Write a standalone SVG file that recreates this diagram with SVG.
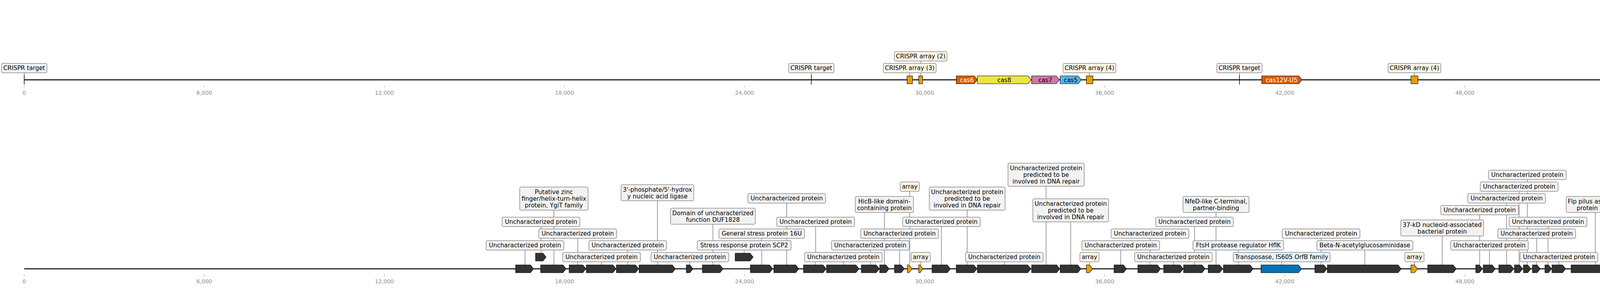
<svg xmlns="http://www.w3.org/2000/svg" width="4528" height="736" viewBox="0 0 4528 736">
<style>
.t{font-family:"DejaVu Sans","Noto Sans",sans-serif;font-size:15.3px;text-anchor:middle;fill:#000}
.tw{fill:#fff}
.ax{font-family:"DejaVu Sans","Noto Sans",sans-serif;font-size:13.9px;text-anchor:middle;fill:#8c8c8c}
.tk{stroke:#a0a0a0;stroke-width:1}
.bx{fill:#f2f2f2;stroke:#8a8a8a;stroke-width:1.5}
.cr{fill:#fef6e5;stroke:#8a8a8a;stroke-width:1.5}
.tb{fill:#e6f4fc;stroke:#8a8a8a;stroke-width:1.5}
.c{stroke:#444;stroke-width:1;fill:none}
.trk{stroke:#000;stroke-width:2.6}
.g{fill:#333;stroke:#000;stroke-width:1.1}
.o{fill:#e69f00;stroke:#000;stroke-width:1.1}
.tg{stroke:#000;stroke-width:1.5}
</style>
<rect x="0" y="0" width="4528" height="736" fill="#fff"/>
<g id="axes">
<g class="tk">
<line x1="62" y1="218" x2="62" y2="224"/><line x1="523" y1="218" x2="523" y2="224"/><line x1="984" y1="218" x2="984" y2="224"/><line x1="1445" y1="218" x2="1445" y2="224"/><line x1="1906" y1="218" x2="1906" y2="224"/><line x1="2367" y1="218" x2="2367" y2="224"/><line x1="2828" y1="218" x2="2828" y2="224"/><line x1="3289" y1="218" x2="3289" y2="224"/><line x1="3750" y1="218" x2="3750" y2="224"/><line x1="4211" y1="218" x2="4211" y2="224"/>
<line x1="62" y1="701" x2="62" y2="707"/><line x1="523" y1="701" x2="523" y2="707"/><line x1="984" y1="701" x2="984" y2="707"/><line x1="1445" y1="701" x2="1445" y2="707"/><line x1="1906" y1="701" x2="1906" y2="707"/><line x1="2367" y1="701" x2="2367" y2="707"/><line x1="2828" y1="701" x2="2828" y2="707"/><line x1="3289" y1="701" x2="3289" y2="707"/><line x1="3750" y1="701" x2="3750" y2="707"/><line x1="4211" y1="701" x2="4211" y2="707"/>
</g>
<g class="ax">
<text x="62" y="242">0</text><text x="523" y="242">6,000</text><text x="984" y="242">12,000</text><text x="1445" y="242">18,000</text><text x="1906" y="242">24,000</text><text x="2367" y="242">30,000</text><text x="2828" y="242">36,000</text><text x="3289" y="242">42,000</text><text x="3750" y="242">48,000</text><text x="4211" y="242">54,000</text>
<text x="62" y="724">0</text><text x="523" y="724">6,000</text><text x="984" y="724">12,000</text><text x="1445" y="724">18,000</text><text x="1906" y="724">24,000</text><text x="2367" y="724">30,000</text><text x="2828" y="724">36,000</text><text x="3289" y="724">42,000</text><text x="3750" y="724">48,000</text><text x="4211" y="724">54,000</text>
</g>
</g>
<g id="tracks">
<line class="trk" x1="62" y1="204" x2="4480" y2="204"/>
<line class="trk" x1="62" y1="687" x2="4480" y2="687"/>
</g>
<g id="connectors" class="c">
<line x1="62" y1="186" x2="62" y2="192"/><line x1="2077" y1="186" x2="2077" y2="192"/><line x1="3173" y1="186" x2="3173" y2="192"/>
<line x1="2329" y1="186" x2="2329" y2="194"/><line x1="2357" y1="156" x2="2357" y2="194"/><line x1="2789" y1="186" x2="2789" y2="194"/><line x1="3621" y1="186" x2="3621" y2="194"/>
<line x1="1344" y1="677" x2="1344" y2="639"/>
<line x1="1385" y1="647" x2="1385" y2="579"/>
<line x1="1418" y1="677" x2="1418" y2="537"/>
<line x1="1479" y1="677" x2="1479" y2="609"/>
<line x1="1540" y1="677" x2="1540" y2="669"/>
<line x1="1607" y1="677" x2="1607" y2="639"/>
<line x1="1683" y1="677" x2="1683" y2="513"/>
<line x1="1766" y1="677" x2="1766" y2="669"/>
<line x1="1825" y1="677" x2="1825" y2="573"/>
<line x1="1905" y1="647" x2="1905" y2="639"/>
<line x1="1950" y1="677" x2="1950" y2="609"/>
<line x1="2014" y1="677" x2="2014" y2="519"/>
<line x1="2088" y1="677" x2="2088" y2="579"/>
<line x1="2159" y1="677" x2="2159" y2="669"/>
<line x1="2228" y1="677" x2="2228" y2="639"/>
<line x1="2264" y1="677" x2="2264" y2="543"/>
<line x1="2303" y1="677" x2="2303" y2="609"/>
<line x1="2329" y1="677" x2="2329" y2="489"/>
<line x1="2357" y1="677" x2="2357" y2="669"/>
<line x1="2410" y1="677" x2="2410" y2="579"/>
<line x1="2476" y1="677" x2="2476" y2="537"/>
<line x1="2571" y1="677" x2="2571" y2="669"/>
<line x1="2678" y1="677" x2="2678" y2="476"/>
<line x1="2741" y1="677" x2="2741" y2="567"/>
<line x1="2789" y1="677" x2="2789" y2="669"/>
<line x1="2869" y1="677" x2="2869" y2="639"/>
<line x1="2944" y1="677" x2="2944" y2="609"/>
<line x1="3004" y1="677" x2="3004" y2="669"/>
<line x1="3058" y1="677" x2="3058" y2="579"/>
<line x1="3113" y1="677" x2="3113" y2="543"/>
<line x1="3170" y1="677" x2="3170" y2="639"/>
<line x1="3281" y1="677" x2="3281" y2="669"/>
<line x1="3382" y1="677" x2="3382" y2="609"/>
<line x1="3494" y1="677" x2="3494" y2="639"/>
<line x1="3621" y1="677" x2="3621" y2="669"/>
<line x1="3692" y1="677" x2="3692" y2="603"/>
<line x1="3788" y1="677" x2="3788" y2="549"/>
<line x1="3813" y1="677" x2="3813" y2="639"/>
<line x1="3857" y1="677" x2="3857" y2="519"/>
<line x1="3889" y1="677" x2="3889" y2="489"/>
<line x1="3910" y1="677" x2="3910" y2="459"/>
<line x1="3934" y1="677" x2="3934" y2="609"/>
<line x1="3963" y1="677" x2="3963" y2="579"/>
<line x1="3991" y1="677" x2="3991" y2="669"/>
<line x1="4084" y1="677" x2="4084" y2="543"/>
<line x1="4233" y1="677" x2="4233" y2="579"/>
<line x1="4276" y1="677" x2="4276" y2="543"/>
<line x1="4314" y1="677" x2="4314" y2="609"/>
<line x1="4340" y1="677" x2="4340" y2="639"/>
<line x1="4423" y1="677" x2="4423" y2="669"/>
</g>
<!-- top track nodes -->
<g id="top-crispr-target-1"><line class="tg" x1="62" y1="192" x2="62" y2="216"/><rect class="bx" x="4" y="162" width="116" height="24" rx="3.5"/><text class="t" x="62" y="179.3">CRISPR target</text></g>
<g id="top-crispr-target-2"><line class="tg" x1="2077" y1="192" x2="2077" y2="216"/><rect class="bx" x="2019" y="162" width="116" height="24" rx="3.5"/><text class="t" x="2077" y="179.3">CRISPR target</text></g>
<g id="top-crispr-target-3"><line class="tg" x1="3173" y1="192" x2="3173" y2="216"/><rect class="bx" x="3115" y="162" width="116" height="24" rx="3.5"/><text class="t" x="3173" y="179.3">CRISPR target</text></g>
<g id="top-crispr-array-3"><rect class="o" x="2322" y="194" width="14" height="20"/><rect class="cr" x="2261.5" y="162" width="135" height="24" rx="3.5"/><text class="t" x="2329" y="179.3">CRISPR array (3)</text></g>
<g id="top-crispr-array-2"><rect class="o" x="2352" y="194" width="10" height="20"/><rect class="cr" x="2289.5" y="132" width="135" height="24" rx="3.5"/><text class="t" x="2357" y="149.3">CRISPR array (2)</text></g>
<g id="top-cas6"><path class="g" style="fill:#d55e00" d="M2448 194H2494L2502 204L2494 214H2448Z"/><text class="t tw" x="2475" y="209.5">cas6</text></g>
<g id="top-cas8"><path class="g" style="fill:#f0e442" d="M2502 194H2632L2640 204L2632 214H2502Z"/><text class="t" x="2571" y="209.5">cas8</text></g>
<g id="top-cas7"><path class="g" style="fill:#cc79a7" d="M2641 194H2704L2712 204L2704 214H2641Z"/><text class="t" x="2676" y="209.5">cas7</text></g>
<g id="top-cas5"><path class="g" style="fill:#56b4e9" d="M2714 194H2760L2768 204L2760 214H2714Z"/><text class="t" x="2741" y="209.5">cas5</text></g>
<g id="top-crispr-array-4a"><rect class="o" x="2781" y="194" width="17" height="20"/><rect class="cr" x="2721.5" y="162" width="135" height="24" rx="3.5"/><text class="t" x="2789" y="179.3">CRISPR array (4)</text></g>
<g id="top-cas12V-U5"><path class="g" style="fill:#d55e00" d="M3230 194H3325L3333 204L3325 214H3230Z"/><text class="t tw" x="3281" y="209.5">cas12V-U5</text></g>
<g id="top-crispr-array-4b"><rect class="o" x="3612" y="194" width="18" height="20"/><rect class="cr" x="3553.5" y="162" width="135" height="24" rx="3.5"/><text class="t" x="3621" y="179.3">CRISPR array (4)</text></g>
<g id="top-transposase"><path class="g" style="fill:#0072b2" d="M4366 194H4472L4480 204L4472 214H4366Z"/><text class="t tw" x="4423" y="209.5">transposase</text></g>
<!-- bottom track nodes -->
<g id="g1"><path class="g" d="M1320 677H1358L1366 687L1358 697H1320Z"/><rect class="bx" x="1244.5" y="615" width="199" height="24" rx="3.5"/><text class="t" x="1344" y="632.3">Uncharacterized protein</text></g>
<g id="g2"><path class="g" d="M1371 647H1390L1398 657L1390 667H1371Z"/><rect class="bx" x="1285.5" y="555" width="199" height="24" rx="3.5"/><text class="t" x="1385" y="572.3">Uncharacterized protein</text></g>
<g id="g3"><path class="g" d="M1384 677H1441L1449 687L1441 697H1384Z"/><rect class="bx" x="1330.5" y="478" width="175" height="59" rx="3.5"/><text class="t" x="1418" y="495.5">Putative zinc</text><text class="t" x="1418" y="512.9">finger/helix-turn-helix</text><text class="t" x="1418" y="530.3">protein, YgiT family</text></g>
<g id="g4"><path class="g" d="M1457 677H1492L1500 687L1492 697H1457Z"/><rect class="bx" x="1379.5" y="585" width="199" height="24" rx="3.5"/><text class="t" x="1479" y="602.3">Uncharacterized protein</text></g>
<g id="g5"><path class="g" d="M1501 677H1569L1577 687L1569 697H1501Z"/><rect class="bx" x="1440.5" y="645" width="199" height="24" rx="3.5"/><text class="t" x="1540" y="662.3">Uncharacterized protein</text></g>
<g id="g6"><path class="g" d="M1578 677H1627L1635 687L1627 697H1578Z"/><rect class="bx" x="1507.5" y="615" width="199" height="24" rx="3.5"/><text class="t" x="1607" y="632.3">Uncharacterized protein</text></g>
<g id="g7"><path class="g" d="M1636 677H1721L1729 687L1721 697H1636Z"/><rect class="bx" x="1590" y="472" width="186" height="41" rx="3.5"/><text class="t" x="1683" y="489.5">3'-phosphate/5'-hydrox</text><text class="t" x="1683" y="506.9">y nucleic acid ligase</text></g>
<g id="g8"><path class="g" d="M1757 677H1766L1774 687L1766 697H1757Z"/><rect class="bx" x="1666.5" y="645" width="199" height="24" rx="3.5"/><text class="t" x="1766" y="662.3">Uncharacterized protein</text></g>
<g id="g9"><path class="g" d="M1798 677H1843L1851 687L1843 697H1798Z"/><rect class="bx" x="1716.5" y="532" width="217" height="41" rx="3.5"/><text class="t" x="1825" y="549.5">Domain of uncharacterized</text><text class="t" x="1825" y="566.9">function DUF1828</text></g>
<g id="g10"><path class="g" d="M1882 647H1920L1928 657L1920 667H1882Z"/><rect class="bx" x="1785" y="615" width="240" height="24" rx="3.5"/><text class="t" x="1905" y="632.3">Stress response protein SCP2</text></g>
<g id="g11"><path class="g" d="M1921 677H1970L1978 687L1970 697H1921Z"/><rect class="bx" x="1840.5" y="585" width="219" height="24" rx="3.5"/><text class="t" x="1950" y="602.3">General stress protein 16U</text></g>
<g id="g12"><path class="g" d="M1981 677H2037L2045 687L2037 697H1981Z"/><rect class="bx" x="1914.5" y="495" width="199" height="24" rx="3.5"/><text class="t" x="2014" y="512.3">Uncharacterized protein</text></g>
<g id="g13"><path class="g" d="M2057 677H2107L2115 687L2107 697H2057Z"/><rect class="bx" x="1988.5" y="555" width="199" height="24" rx="3.5"/><text class="t" x="2088" y="572.3">Uncharacterized protein</text></g>
<g id="g14"><path class="g" d="M2116 677H2191L2199 687L2191 697H2116Z"/><rect class="bx" x="2059.5" y="645" width="199" height="24" rx="3.5"/><text class="t" x="2159" y="662.3">Uncharacterized protein</text></g>
<g id="g15"><path class="g" d="M2205 677H2243L2251 687L2243 697H2205Z"/><rect class="bx" x="2128.5" y="615" width="199" height="24" rx="3.5"/><text class="t" x="2228" y="632.3">Uncharacterized protein</text></g>
<g id="g16"><path class="g" d="M2252 677H2268L2276 687L2268 697H2252Z"/><rect class="bx" x="2189.5" y="502" width="149" height="41" rx="3.5"/><text class="t" x="2264" y="519.5">HicB-like domain-</text><text class="t" x="2264" y="536.9">containing protein</text></g>
<g id="g17"><path class="g" d="M2290 677H2307L2315 687L2307 697H2290Z"/><rect class="bx" x="2203.5" y="585" width="199" height="24" rx="3.5"/><text class="t" x="2303" y="602.3">Uncharacterized protein</text></g>
<g id="a1"><path class="o" d="M2323 677H2327L2335 687L2327 697H2323Z"/><rect class="cr" x="2304.5" y="465" width="49" height="24" rx="3.5"/><text class="t" x="2329" y="482.3">array</text></g>
<g id="a2"><path class="o" d="M2352 677H2355.7L2362 687L2355.7 697H2352Z"/><rect class="cr" x="2332.5" y="645" width="49" height="24" rx="3.5"/><text class="t" x="2357" y="662.3">array</text></g>
<g id="g18"><path class="g" d="M2386 677H2425L2433 687L2425 697H2386Z"/><rect class="bx" x="2310.5" y="555" width="199" height="24" rx="3.5"/><text class="t" x="2410" y="572.3">Uncharacterized protein</text></g>
<g id="g19"><path class="g" d="M2448 677H2493L2501 687L2493 697H2448Z"/><rect class="bx" x="2379" y="478" width="194" height="59" rx="3.5"/><text class="t" x="2476" y="495.5">Uncharacterized protein</text><text class="t" x="2476" y="512.9">predicted to be</text><text class="t" x="2476" y="530.3">involved in DNA repair</text></g>
<g id="g20"><path class="g" d="M2502 677H2631L2639 687L2631 697H2502Z"/><rect class="bx" x="2471.5" y="645" width="199" height="24" rx="3.5"/><text class="t" x="2571" y="662.3">Uncharacterized protein</text></g>
<g id="g21"><path class="g" d="M2641 677H2705L2713 687L2705 697H2641Z"/><rect class="bx" x="2580.5" y="417" width="195" height="59" rx="3.5"/><text class="t" x="2678" y="434.5">Uncharacterized protein</text><text class="t" x="2678" y="451.9">predicted to be</text><text class="t" x="2678" y="469.3">involved in DNA repair</text></g>
<g id="g22"><path class="g" d="M2714 677H2759L2767 687L2759 697H2714Z"/><rect class="bx" x="2644" y="508" width="194" height="59" rx="3.5"/><text class="t" x="2741" y="525.5">Uncharacterized protein</text><text class="t" x="2741" y="542.9">predicted to be</text><text class="t" x="2741" y="560.3">involved in DNA repair</text></g>
<g id="a3"><path class="o" d="M2781 677H2789L2797 687L2789 697H2781Z"/><rect class="cr" x="2764.5" y="645" width="49" height="24" rx="3.5"/><text class="t" x="2789" y="662.3">array</text></g>
<g id="g23"><path class="g" d="M2852 677H2876L2884 687L2876 697H2852Z"/><rect class="bx" x="2769.5" y="615" width="199" height="24" rx="3.5"/><text class="t" x="2869" y="632.3">Uncharacterized protein</text></g>
<g id="g24"><path class="g" d="M2913 677H2963L2971 687L2963 697H2913Z"/><rect class="bx" x="2844.5" y="585" width="199" height="24" rx="3.5"/><text class="t" x="2944" y="602.3">Uncharacterized protein</text></g>
<g id="g25"><path class="g" d="M2979 677H3021L3029 687L3021 697H2979Z"/><rect class="bx" x="2904.5" y="645" width="199" height="24" rx="3.5"/><text class="t" x="3004" y="662.3">Uncharacterized protein</text></g>
<g id="g26"><path class="g" d="M3030 677H3077L3085 687L3077 697H3030Z"/><rect class="bx" x="2958.5" y="555" width="199" height="24" rx="3.5"/><text class="t" x="3058" y="572.3">Uncharacterized protein</text></g>
<g id="g27"><path class="g" d="M3093 677H3122L3130 687L3122 697H3093Z"/><rect class="bx" x="3028.5" y="502" width="169" height="41" rx="3.5"/><text class="t" x="3113" y="519.5">NfeD-like C-terminal,</text><text class="t" x="3113" y="536.9">partner-binding</text></g>
<g id="g28"><path class="g" d="M3132 677H3200L3208 687L3200 697H3132Z"/><rect class="bx" x="3054" y="615" width="232" height="24" rx="3.5"/><text class="t" x="3170" y="632.3">FtsH protease regulator HflK</text></g>
<g id="g29"><path class="g" style="fill:#0072b2" d="M3228 677H3324L3332 687L3324 697H3228Z"/><rect class="tb" x="3157" y="645" width="248" height="24" rx="3.5"/><text class="t" x="3281" y="662.3">Transposase, IS605 OrfB family</text></g>
<g id="g30"><path class="g" d="M3366 677H3389L3397 687L3389 697H3366Z"/><rect class="bx" x="3282.5" y="585" width="199" height="24" rx="3.5"/><text class="t" x="3382" y="602.3">Uncharacterized protein</text></g>
<g id="g31"><path class="g" d="M3398 677H3579L3587 687L3579 697H3398Z"/><rect class="bx" x="3371" y="615" width="246" height="24" rx="3.5"/><text class="t" x="3494" y="632.3">Beta-N-acetylglucosaminidase</text></g>
<g id="a4"><path class="o" d="M3612 677H3621L3629 687L3621 697H3612Z"/><rect class="cr" x="3596.5" y="645" width="49" height="24" rx="3.5"/><text class="t" x="3621" y="662.3">array</text></g>
<g id="g32"><path class="g" d="M3655 677H3720L3728 687L3720 697H3655Z"/><rect class="bx" x="3586" y="562" width="212" height="41" rx="3.5"/><text class="t" x="3692" y="579.5">37-kD nucleoid-associated</text><text class="t" x="3692" y="596.9">bacterial protein</text></g>
<g id="g33"><path class="g" d="M3778 677H3787L3795 687L3787 697H3778Z"/><rect class="bx" x="3688.5" y="525" width="199" height="24" rx="3.5"/><text class="t" x="3788" y="542.3">Uncharacterized protein</text></g>
<g id="g34"><path class="g" d="M3797 677H3820L3828 687L3820 697H3797Z"/><rect class="bx" x="3713.5" y="615" width="199" height="24" rx="3.5"/><text class="t" x="3813" y="632.3">Uncharacterized protein</text></g>
<g id="g35"><path class="g" d="M3837 677H3867L3875 687L3867 697H3837Z"/><rect class="bx" x="3757.5" y="495" width="199" height="24" rx="3.5"/><text class="t" x="3857" y="512.3">Uncharacterized protein</text></g>
<g id="g36"><path class="g" d="M3877 677H3890L3898 687L3890 697H3877Z"/><rect class="bx" x="3789.5" y="465" width="199" height="24" rx="3.5"/><text class="t" x="3889" y="482.3">Uncharacterized protein</text></g>
<g id="g37"><path class="g" d="M3900 677H3911L3919 687L3911 697H3900Z"/><rect class="bx" x="3810.5" y="435" width="199" height="24" rx="3.5"/><text class="t" x="3910" y="452.3">Uncharacterized protein</text></g>
<g id="g38"><path class="g" d="M3923 677H3935L3943 687L3935 697H3923Z"/><rect class="bx" x="3834.5" y="585" width="199" height="24" rx="3.5"/><text class="t" x="3934" y="602.3">Uncharacterized protein</text></g>
<g id="g39"><path class="g" d="M3955 677H3964L3972 687L3964 697H3955Z"/><rect class="bx" x="3863.5" y="555" width="199" height="24" rx="3.5"/><text class="t" x="3963" y="572.3">Uncharacterized protein</text></g>
<g id="g40"><path class="g" d="M3973 677H4000L4008 687L4000 697H3973Z"/><rect class="bx" x="3891.5" y="645" width="199" height="24" rx="3.5"/><text class="t" x="3991" y="662.3">Uncharacterized protein</text></g>
<g id="g41"><path class="g" d="M4022 677H4136L4144 687L4136 697H4022Z"/><rect class="bx" x="4009.5" y="502" width="149" height="41" rx="3.5"/><text class="t" x="4084" y="519.5">Flp pilus assembly</text><text class="t" x="4084" y="536.9">protein TadB</text></g>
<g id="g42"><path class="g" d="M4213 677H4243L4251 687L4243 697H4213Z"/><rect class="bx" x="4133.5" y="555" width="199" height="24" rx="3.5"/><text class="t" x="4233" y="572.3">Uncharacterized protein</text></g>
<g id="g43"><path class="g" d="M4252 677H4291L4299 687L4291 697H4252Z"/><rect class="bx" x="4184" y="502" width="184" height="41" rx="3.5"/><text class="t" x="4276" y="519.5">Exosortase E/protease,</text><text class="t" x="4276" y="536.9">VPEID-CTERM system</text></g>
<g id="g44"><path class="g" d="M4301 677H4317L4325 687L4317 697H4301Z"/><rect class="bx" x="4214.5" y="585" width="199" height="24" rx="3.5"/><text class="t" x="4314" y="602.3">Uncharacterized protein</text></g>
<g id="g45"><path class="g" d="M4326 677H4344L4352 687L4344 697H4326Z"/><rect class="bx" x="4240.5" y="615" width="199" height="24" rx="3.5"/><text class="t" x="4340" y="632.3">Uncharacterized protein</text></g>
<g id="g46"><path class="g" d="M4367 677H4472L4480 687L4472 697H4367Z"/><rect class="bx" x="4323.5" y="645" width="199" height="24" rx="3.5"/><text class="t" x="4423" y="662.3">Uncharacterized protein</text></g>
</svg>
